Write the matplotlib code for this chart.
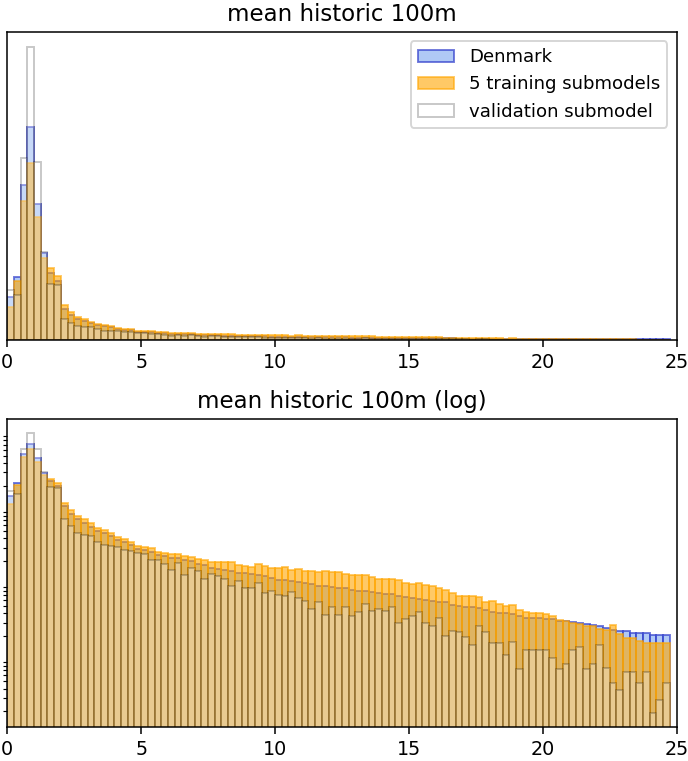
import numpy as np
import matplotlib
matplotlib.use("Agg")
import matplotlib.pyplot as plt

# bins of 0.25 from 0 to 24.75
bin_edges = np.arange(0, 25, 0.25)
xticks = [0, 5, 10, 15, 20, 25]

# density per bin
denmark = [
    0.147, 0.214, 0.529, 0.725, 0.463, 0.295, 0.229, 0.200, 0.107, 0.085,
    0.0716, 0.064, 0.0568, 0.0498, 0.0464, 0.0427, 0.038, 0.0353, 0.0326, 0.0286,
    0.028, 0.0266, 0.0241, 0.0234, 0.0218, 0.0218, 0.0203, 0.0197, 0.0183, 0.0178,
    0.0161, 0.0156, 0.0153, 0.0145, 0.0138, 0.0136, 0.0132, 0.0128, 0.0124, 0.0119,
    0.0111, 0.0110, 0.0107, 0.0104, 0.0100, 0.0098, 0.0094, 0.0093, 0.0091, 0.0088,
    0.0086, 0.0083, 0.0079, 0.0079, 0.0077, 0.0075, 0.0073, 0.0072, 0.0068, 0.0066,
    0.0064, 0.0062, 0.0060, 0.0059, 0.0057, 0.0056, 0.0052, 0.0050, 0.0049, 0.0048,
    0.0047, 0.0044, 0.0042, 0.0040, 0.0040, 0.0039, 0.0037, 0.00353, 0.00346, 0.00346,
    0.00336, 0.00336, 0.00319, 0.00313, 0.0031, 0.00298, 0.00289, 0.0028, 0.00269, 0.00255,
    0.00243, 0.00231, 0.00231, 0.00218, 0.00218, 0.00218, 0.00209, 0.00209, 0.00209,
]

training = [
    0.113, 0.201, 0.475, 0.604, 0.418, 0.280, 0.246, 0.218, 0.119, 0.094,
    0.079, 0.071, 0.063, 0.055, 0.0514, 0.0473, 0.042, 0.0391, 0.036, 0.0316,
    0.031, 0.0295, 0.0266, 0.0258, 0.0246, 0.0246, 0.0234, 0.0224, 0.0211, 0.0203,
    0.0191, 0.0191, 0.0191, 0.0191, 0.0178, 0.0173, 0.0166, 0.0183, 0.0173, 0.0161,
    0.0161, 0.0166, 0.0153, 0.0156, 0.0145, 0.0148, 0.0141, 0.0145, 0.0141, 0.0141,
    0.0134, 0.0131, 0.0131, 0.0131, 0.0122, 0.0116, 0.0116, 0.0116, 0.0111, 0.0102,
    0.0097, 0.0102, 0.0095, 0.0092, 0.0088, 0.0081, 0.0074, 0.0068, 0.0068, 0.0068,
    0.0066, 0.0057, 0.0059, 0.0053, 0.0050, 0.0052, 0.0045, 0.0042, 0.0040, 0.0040,
    0.0039, 0.0037, 0.0033, 0.0032, 0.0030, 0.0029, 0.0027, 0.0027, 0.0025, 0.0024,
    0.0028, 0.0021, 0.0019, 0.0019, 0.0017, 0.0016, 0.0016, 0.0016, 0.0016,
]

validation = [
    0.169, 0.155, 0.621, 1.0, 0.608, 0.300, 0.191, 0.186, 0.073, 0.058,
    0.0465, 0.044, 0.0428, 0.036, 0.0323, 0.0316, 0.0303, 0.028, 0.0272, 0.0253,
    0.025, 0.0203, 0.0203, 0.0183, 0.0153, 0.0187, 0.0131, 0.0161, 0.0145, 0.0113,
    0.0135, 0.0125, 0.0115, 0.0094, 0.0107, 0.0088, 0.0088, 0.0102, 0.0074, 0.0079,
    0.0070, 0.0068, 0.0077, 0.0065, 0.0059, 0.0046, 0.0057, 0.0038, 0.0049, 0.0038,
    0.0048, 0.0037, 0.0042, 0.0053, 0.0043, 0.0046, 0.0043, 0.0048, 0.0030, 0.0034,
    0.0037, 0.0042, 0.0030, 0.0027, 0.0035, 0.0020, 0.00236, 0.00224, 0.00197, 0.0015,
    0.00275, 0.00224, 0.00161, 0.00161, 0.00111, 0.00166, 0.00074, 0.00131, 0.00131, 0.00131,
    0.00131, 0.00102, 0.00074, 0.00084, 0.00131, 0.00143, 0.00074, 0.00084, 0.0015, 0.00075,
    0.00048, 0.00038, 0.00067, 0.00067, 0.00048, 0.00067, 0.00019, 0.00028, 0.00048,
]

labels = ["Denmark", "5 training submodels", "validation submodel"]

dpi = 137.6
fig = plt.figure(figsize=(688 / dpi, 761 / dpi), dpi=dpi)
ax_lin = fig.add_axes([0.0106, 0.5532, 0.9727, 0.4047])
ax_log = fig.add_axes([0.0106, 0.0447, 0.9727, 0.4047])

left = bin_edges[:-1]


def draw(ax, log):
    ax.hist(left, bins=bin_edges, weights=denmark, log=log,
            facecolor=(0.39, 0.58, 0.93, 0.5), edgecolor=(0.2, 0.25, 0.8, 0.7),
            label=labels[0])
    ax.hist(left, bins=bin_edges, weights=training, log=log,
            facecolor=(1.0, 0.65, 0.0, 0.6), edgecolor=(1.0, 0.65, 0.0, 0.6),
            label=labels[1])
    ax.hist(left, bins=bin_edges, weights=validation, log=log,
            facecolor=(1, 1, 1, 0.3), edgecolor=(0, 0, 0, 0.22),
            label=labels[2])
    ax.set_xlim(0, 25)
    ax.set_xticks(xticks)
    ax.set_yticks([])


draw(ax_lin, False)
ax_lin.set_title("mean historic 100m")
ax_lin.legend(loc="upper right", fontsize=9.5)

draw(ax_log, True)
ax_log.set_title("mean historic 100m (log)")

fig.savefig("out.png", dpi=dpi)
